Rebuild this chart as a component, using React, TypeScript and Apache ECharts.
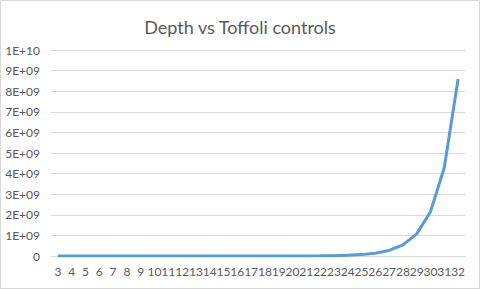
import React, { useEffect, useRef } from "react";
import * as echarts from "echarts";

const categories = [
  "3", "4", "5", "6", "7", "8", "9", "10", "11", "12", "13", "14", "15", "16", "17",
  "18", "19", "20", "21", "22", "23", "24", "25", "26", "27", "28", "29", "30", "31", "32",
];
const depthValues = [
  16, 32, 64, 128, 256, 512, 1024, 2048, 4096, 8192, 16384, 32768, 65536, 131072,
  262144, 524288, 1048576, 2097152, 4194304, 8388608, 16777216, 33554432, 67108864,
  134217728, 268435456, 536870912, 1073741824, 2147483648, 4294967296, 8589934592,
];
const yTickLabels: Record<number, string> = {
  0: "0", 1: "1E+09", 2: "2E+09", 3: "3E+09", 4: "4E+09", 5: "5E+09",
  6: "6E+09", 7: "7E+09", 8: "8E+09", 9: "9E+09", 10: "1E+10",
};

export default function App() {
  const ref = useRef<HTMLDivElement>(null);
  useEffect(() => {
    if (!ref.current) return;
    const chart = echarts.init(ref.current, null, { renderer: "svg" });
    const font = "Lato, 'Open Sans', sans-serif";
    chart.setOption({
      animation: false,
      title: {
        text: "Depth vs Toffoli controls",
        left: "center",
        top: 12,
        textStyle: { color: "#595959", fontSize: 18, fontWeight: "normal", fontFamily: font },
      },
      grid: { left: 50, right: 14, top: 49, bottom: 32 },
      xAxis: {
        type: "category",
        data: categories,
        boundaryGap: true,
        axisLine: { lineStyle: { color: "#D9D9D9" } },
        axisTick: { show: false },
        axisLabel: { color: "#595959", fontSize: 12, fontFamily: font, interval: 0, margin: 9 },
      },
      yAxis: {
        type: "value",
        min: 0,
        max: 1e10,
        interval: 1e9,
        axisLine: { show: false },
        axisTick: { show: false },
        splitLine: { lineStyle: { color: "#D9D9D9" } },
        axisLabel: {
          color: "#595959",
          fontSize: 12,
          fontFamily: font,
          margin: 11,
          formatter: (v: number) => yTickLabels[Math.round(v / 1e9)] ?? String(v),
        },
      },
      series: [
        {
          type: "line",
          data: depthValues,
          showSymbol: false,
          lineStyle: { color: "#5B9BD5", width: 3 },
          itemStyle: { color: "#5B9BD5" },
        },
      ],
    });
    return () => chart.dispose();
  }, []);
  return (
    <div
      style={{
        position: "fixed",
        left: 0,
        top: 0,
        width: 480,
        height: 289,
        boxSizing: "border-box",
        border: "1px solid #D9D9D9",
        background: "#fff",
      }}
    >
      <div ref={ref} style={{ width: 478, height: 287 }} />
    </div>
  );
}
